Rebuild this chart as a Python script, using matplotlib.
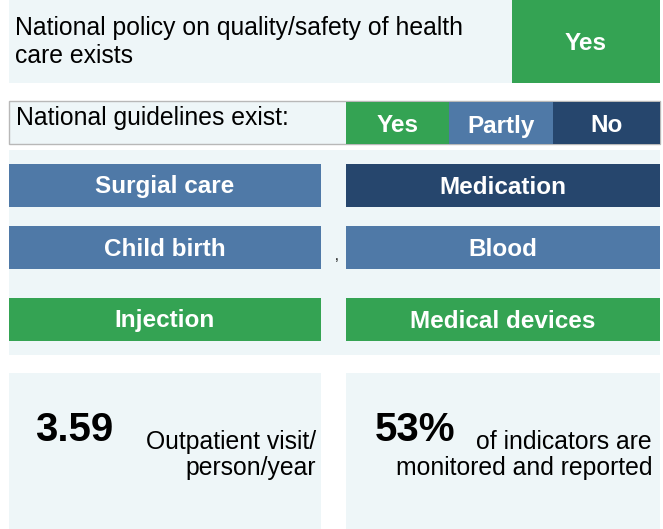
import matplotlib.pyplot as plt
from matplotlib.patches import Rectangle
from matplotlib import font_manager

# data
policy_label = "National policy on quality/safety of health\ncare exists"
policy_status = "Yes"
legend_levels = ["Yes", "Partly", "No"]
guideline_areas = ["Surgial care", "Medication", "Child birth", "Blood", "Injection", "Medical devices"]
guideline_status = ["Partly", "No", "Partly", "Partly", "Yes", "Yes"]
visits_value = 3.59
visits_label = ["Outpatient visit/", "person/year"]
monitored_pct = 53
monitored_label = ["of indicators are", "monitored and reported"]

colors = {"Yes": "#34a353", "Partly": "#4f79a7", "No": "#26466d"}
light = "#eef6f8"

names = {f.name for f in font_manager.fontManager.ttflist}
narrow = "Liberation Sans Narrow" if "Liberation Sans Narrow" in names else "Liberation Sans"
plt.rcParams['font.family'] = ['Liberation Sans', 'DejaVu Sans']

fs = 17.8   # regular text
bfs = 17.5  # bold box labels

fig = plt.figure(figsize=(6.63, 5.29), dpi=100)
ax = fig.add_axes([0, 0, 1, 1])
ax.set_xlim(0, 663)
ax.set_ylim(529, 0)
ax.axis('off')

# top policy panel
ax.add_patch(Rectangle((9, 0), 503, 83, color=light, lw=0))
ax.add_patch(Rectangle((512, 0), 148, 83, color=colors[policy_status], lw=0))
ax.text(15, 42, policy_label, fontsize=fs, va='center', ha='left', linespacing=1.2)
ax.text(586, 43, policy_status, fontsize=bfs, fontweight='bold', color='white',
        va='center', ha='center', family=narrow)

# legend bar
ax.add_patch(Rectangle((9, 101), 651, 43, facecolor=light, edgecolor='#b8b8b8', lw=1))
ax.text(16, 118, "National guidelines exist:", fontsize=fs, va='center', ha='left')
lx = [346, 449, 553]
lw_ = [103, 104, 107]
for x0, w, lev in zip(lx, lw_, legend_levels):
    ax.add_patch(Rectangle((x0, 102), w, 42, color=colors[lev], lw=0))
    ax.text(x0 + w / 2, 126, lev, fontsize=bfs, fontweight='bold', color='white',
            va='center', ha='center', family=narrow)

# guideline grid
ax.add_patch(Rectangle((9, 150), 651, 205, color=light, lw=0))
rows_y = [164, 226, 298]
cols_x = [9, 346]
box_w = [312, 314]
for i, (area, st) in enumerate(zip(guideline_areas, guideline_status)):
    r, c = divmod(i, 2)
    x0 = cols_x[c]
    y0 = rows_y[r]
    ax.add_patch(Rectangle((x0, y0), box_w[c], 43, color=colors[st], lw=0))
    ax.text(x0 + box_w[c] / 2, y0 + 23, area, fontsize=bfs, fontweight='bold',
            color='white', va='center', ha='center', family=narrow)
ax.text(337, 256, ",", fontsize=10, ha='center', va='center')

# bottom indicator panels
ax.add_patch(Rectangle((9, 373), 312, 156, color=light, lw=0))
ax.add_patch(Rectangle((346, 373), 314, 156, color=light, lw=0))
ax.text(35, 430, f"{visits_value:.2f}", fontsize=29, fontweight='bold',
        va='center', ha='left', family=narrow)
ax.text(375, 430, f"{monitored_pct}%", fontsize=29, fontweight='bold',
        va='center', ha='left', family=narrow)
for k in range(2):
    ax.text(316, 442 + 26 * k, visits_label[k], fontsize=fs, va='center', ha='right')
    ax.text(652, 442 + 26 * k, monitored_label[k], fontsize=fs, va='center', ha='right')

fig.savefig("out.png", dpi=100)
